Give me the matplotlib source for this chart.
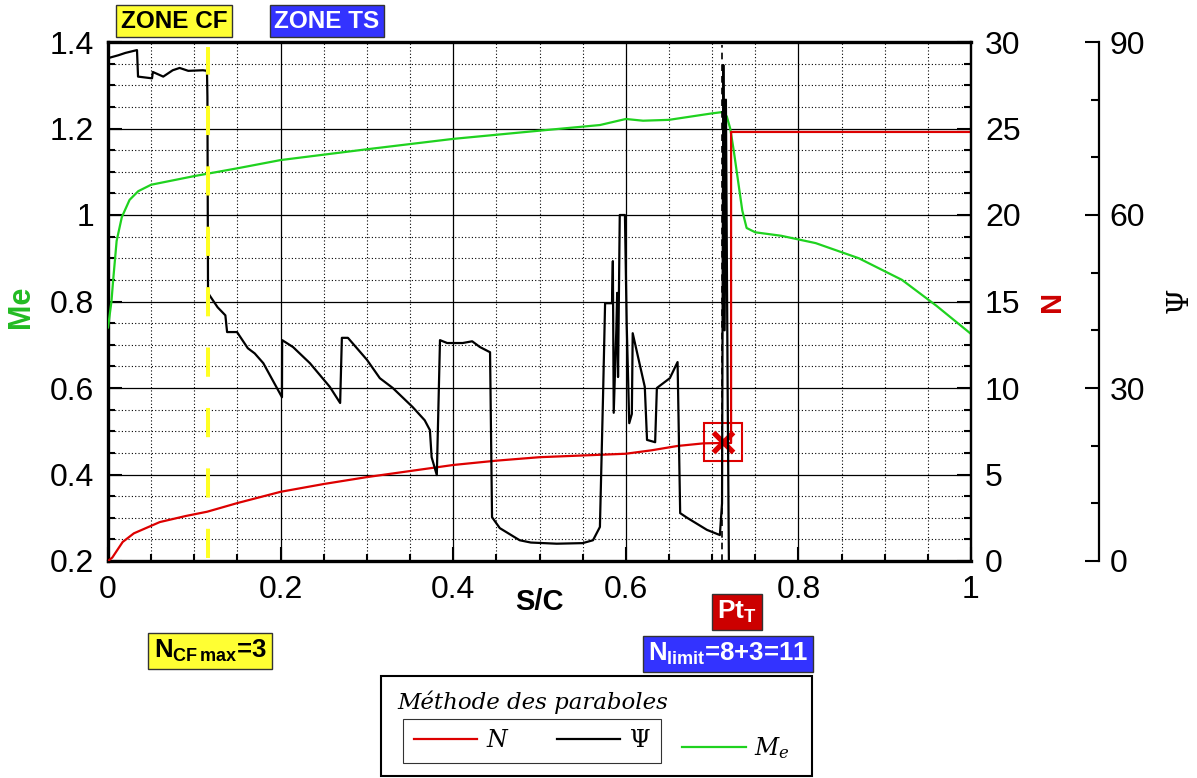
import matplotlib
matplotlib.use('Agg')
import matplotlib.pyplot as plt
from matplotlib.ticker import MultipleLocator, AutoMinorLocator
from matplotlib.patches import Rectangle

plt.rcParams['font.family'] = ['Liberation Sans', 'DejaVu Sans']
plt.rcParams['mathtext.fontset'] = 'custom'
plt.rcParams['mathtext.rm'] = 'Liberation Sans:bold'
plt.rcParams['mathtext.bf'] = 'Liberation Sans:bold'
plt.rcParams['mathtext.it'] = 'Liberation Sans:bold'

# Me (edge Mach number)
me_s = [0, 0.004, 0.006, 0.01, 0.016, 0.025, 0.035, 0.05, 0.1, 0.15, 0.2, 0.3, 0.4, 0.5,
        0.57, 0.6, 0.62, 0.65, 0.7, 0.712, 0.717, 0.721, 0.725, 0.73, 0.735, 0.74, 0.75,
        0.78, 0.82, 0.87, 0.92, 0.96, 1.0]
me_v = [0.74, 0.80, 0.85, 0.94, 0.995, 1.035, 1.055, 1.07, 1.09, 1.108, 1.127, 1.152, 1.176, 1.195,
        1.208, 1.222, 1.218, 1.22, 1.235, 1.238, 1.228, 1.2, 1.15, 1.08, 1.01, 0.97, 0.96,
        0.952, 0.935, 0.9, 0.85, 0.79, 0.725]

# N factor
n_s = [0, 0.005, 0.017, 0.03, 0.06, 0.09, 0.115, 0.15, 0.2, 0.25, 0.3, 0.35, 0.4, 0.45,
       0.5, 0.55, 0.6, 0.63, 0.66, 0.69, 0.71, 0.722, 0.722, 1.0]
n_v = [0, 0.2, 1.1, 1.6, 2.25, 2.6, 2.85, 3.35, 4.0, 4.45, 4.85, 5.2, 5.55, 5.8,
       6.0, 6.1, 6.2, 6.4, 6.65, 6.8, 6.82, 6.82, 24.8, 24.8]

# Psi (wave angle)
psi_s = [0.0, 0.012, 0.02, 0.0336, 0.0348, 0.051, 0.052, 0.064, 0.075, 0.083, 0.093, 0.110,
         0.1147, 0.1152, 0.1159, 0.118, 0.127, 0.136, 0.138, 0.1495, 0.162, 0.170, 0.18,
         0.2016, 0.2018, 0.2144, 0.234, 0.257, 0.269, 0.271, 0.278, 0.300, 0.315, 0.330,
         0.353, 0.367, 0.373, 0.375, 0.381, 0.3847, 0.393, 0.411, 0.422, 0.431, 0.4427,
         0.445, 0.454, 0.477, 0.49, 0.52, 0.55, 0.562, 0.570, 0.5736, 0.576, 0.584, 0.585,
         0.586, 0.589, 0.590, 0.591, 0.593, 0.599, 0.601, 0.604, 0.607, 0.608, 0.622,
         0.6246, 0.634, 0.636, 0.651, 0.660, 0.663, 0.671, 0.694, 0.709, 0.7115, 0.713,
         0.7145, 0.716, 0.718, 0.7195]
psi_v = [87.2, 87.7, 88.1, 88.6, 84.0, 83.7, 84.8, 84.0, 85.1, 85.5, 85.0, 85.1,
         85.0, 80.5, 46.5, 46.0, 44.0, 42.6, 39.7, 39.7, 36.9, 36.0, 34.3,
         28.4, 38.3, 37.1, 34.3, 30.2, 27.4, 38.7, 38.7, 34.9, 31.7, 30.0,
         26.7, 24.4, 22.7, 18.0, 14.9, 38.3, 37.8, 37.8, 38.1, 37.1, 36.2,
         7.6, 5.7, 3.6, 3.2, 3.0, 3.1, 3.6, 5.9, 28.4, 44.7, 44.7, 52.0,
         25.7, 40.0, 46.5, 31.9, 60.0, 60.0, 41.3, 23.9, 25.5, 39.5, 30.2,
         21.0, 20.6, 30.0, 31.7, 34.5, 8.3, 7.5, 5.4, 4.5, 10.0, 86.0,
         40.0, 80.0, 30.0, -1.0]

s_cf = 0.1153      # end of CF zone
s_tr = 0.7115      # transition point
pt_s, pt_n = 0.713, 6.9

green = '#1fd21f'
red = '#dd0000'

fig = plt.figure(figsize=(11.97, 7.78), dpi=100)
ax = fig.add_axes([108/1197, 1-561/778, 863/1197, 519/778])
axN = ax.twinx()
axP = ax.twinx()

lMe, = ax.plot(me_s, me_v, color=green, lw=1.6, zorder=3)
lN, = axN.plot(n_s, n_v, color=red, lw=1.6)
axN.plot([pt_s], [pt_n], marker='s', ms=27, mfc='none', mec=red, mew=1.5)
axN.plot([pt_s], [pt_n], marker='x', ms=14, mec=red, mew=3.8)
lP, = axP.plot(psi_s, psi_v, color='k', lw=1.6)
axP.axvline(s_tr, ymin=0, ymax=0.994, color='k', lw=1.2, ls=(0, (4, 3)))
axP.axvline(s_cf, ymin=0.006, ymax=0.99, color='#ffff22', lw=2.9, ls=(0, (7.25, 7.75)), zorder=5)

ax.set_xlim(0, 1)
ax.set_ylim(0.2, 1.4)
axN.set_ylim(0, 30)
axP.set_ylim(0, 90)

ax.xaxis.set_major_locator(MultipleLocator(0.2))
ax.xaxis.set_minor_locator(MultipleLocator(0.05))
ax.yaxis.set_major_locator(MultipleLocator(0.2))
ax.yaxis.set_minor_locator(MultipleLocator(0.05))
ax.set_xticks([0, 0.2, 0.4, 0.6, 0.8, 1.0], ['0', '0.2', '0.4', '0.6', '0.8', '1'])
ax.set_yticks([0.2, 0.4, 0.6, 0.8, 1.0, 1.2, 1.4], ['0.2', '0.4', '0.6', '0.8', '1', '1.2', '1.4'])
ax.grid(which='major', color='k', lw=0.9, ls='-')
ax.grid(which='minor', color='k', lw=0.8, ls=(0, (1, 2)))

axN.yaxis.set_major_locator(MultipleLocator(5))
axN.yaxis.set_minor_locator(AutoMinorLocator(4))
axP.yaxis.set_major_locator(MultipleLocator(30))
axP.yaxis.set_minor_locator(AutoMinorLocator(3))

ax.tick_params(which='both', direction='in', labelsize=23, width=1.5, pad=10)
ax.tick_params(which='major', length=10)
ax.tick_params(which='minor', length=5)
axN.tick_params(which='both', direction='in', labelsize=23, width=1.5, pad=10)
axN.tick_params(which='major', length=10)
axN.tick_params(which='minor', length=5)
axP.tick_params(which='both', direction='in', labelsize=23, width=1.5, pad=8)
axP.tick_params(which='major', length=10)
axP.tick_params(which='minor', length=6)

for sp in ['left', 'bottom', 'top']:
    ax.spines[sp].set_linewidth(2.4)
ax.spines['right'].set_linewidth(1.6)
for sp in ['left', 'bottom', 'top']:
    axN.spines[sp].set_visible(False)
    axP.spines[sp].set_visible(False)
axN.spines['right'].set_linewidth(1.6)
axP.spines['right'].set_position(('axes', 1.148))
axP.spines['right'].set_linewidth(1.6)

ax.set_xlabel('S/C', fontsize=21, fontweight='bold')
ax.xaxis.set_label_coords(0.5, -0.052)
ax.set_ylabel('Me', fontsize=22, fontweight='bold', color='#22bb22')
ax.yaxis.set_label_coords(-0.083, 0.49)
axN.set_ylabel('N', fontsize=21, fontweight='bold', color='#cc0000')
axN.yaxis.set_label_coords(1.078, 0.5)
fig.text(1180/1197, 1-300/778, 'Ψ', fontsize=21, family='DejaVu Serif', rotation=90,
         ha='center', va='center')

# annotation boxes
def box(x, y, txt, fc, tc, fs=17.5):
    fig.text(x/1197, 1-y/778, txt, ha='center', va='center', fontsize=fs, fontweight='bold',
             color=tc, bbox=dict(boxstyle='square,pad=0.2', fc=fc, ec='#333333', lw=1))

box(174, 21, 'ZONE CF', '#ffff33', 'k')
box(327, 21, 'ZONE TS', '#3333ff', 'w')
box(210, 651, r'N$_{CF\,max}$=3', '#ffff33', 'k', fs=18.5)
box(737, 612, r'Pt$_{T}$', '#cc0000', 'w', fs=19)
box(728, 654, r'N$_{limit}$=8+3=11', '#3333ff', 'w', fs=18.5)

# legend
fig.add_artist(Rectangle((381/1197, 1-776/778), 431/1197, 100/778, transform=fig.transFigure,
                         fill=False, ec='k', lw=1.5))
fig.text(397/1197, 1-702/778, 'Méthode des paraboles', family='DejaVu Serif', style='italic',
         fontsize=16.5, va='center')
lprop = {'size': 17, 'math_fontfamily': 'dejavuserif'}
leg1 = fig.legend([lN, lP], ['$N$', r'$\Psi$'], loc='center', bbox_to_anchor=(532/1197, 1-741/778),
                  ncol=2, prop=lprop, frameon=True, fancybox=False, edgecolor='k',
                  handlelength=2.7, handletextpad=0.35, columnspacing=2.0, borderpad=0.45)
leg1.get_frame().set_linewidth(0.8)
fig.legend([lMe], ['$M_e$'], loc='center', bbox_to_anchor=(736/1197, 1-748/778),
           prop=lprop, frameon=False, handlelength=2.7, handletextpad=0.35)

fig.savefig('out.png', dpi=100)
